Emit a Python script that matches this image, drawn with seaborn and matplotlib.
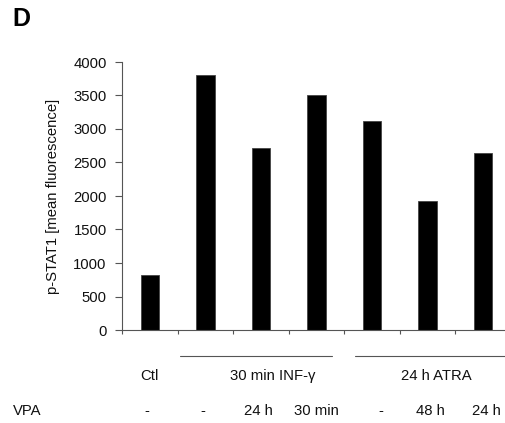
import seaborn as sns
import matplotlib.pyplot as plt
import pandas as pd

## ____data
conditions = ["Ctl", "INF", "INF_VPA24h", "INF_VPA30min", "ATRA", "ATRA_VPA48h", "ATRA_VPA24h"]
pstat1 = [820, 3800, 2720, 3510, 3120, 1930, 2640]
vpa_labels = ["-", "-", "24 h", "30 min", "-", "48 h", "24 h"]
group_labels = ["Ctl", "30 min INF-\u03b3", "24 h ATRA"]

df = pd.DataFrame({"cond": conditions, "val": pstat1})

## ____style
sns.set_theme(style="ticks")
plt.rcParams["font.family"] = ["Liberation Sans", "DejaVu Sans"]
plt.rcParams["text.color"] = "#111111"
fs = 10.7

fig = plt.figure(figsize=(5.05, 4.23), dpi=100)
ax = fig.add_axes([122 / 505, 1 - 330 / 423, 389 / 505, 268 / 423])

sns.barplot(data=df, x="cond", y="val", order=conditions, color="black",
            width=0.33, edgecolor="#444444", linewidth=0.6, saturation=1, ax=ax)

ax.set_xlim(-0.5, len(conditions) - 0.5)
ax.set_ylim(0, 4000)
ax.set_yticks(range(0, 4001, 500))
ax.tick_params(axis="y", labelsize=fs, length=5, width=0.8, color="#555555", pad=6,
               labelcolor="#111111")
ax.set_xticks([i + 0.5 for i in range(-1, len(conditions))])
ax.set_xticklabels([])
ax.tick_params(axis="x", length=3, width=0.8, color="#555555", direction="out")
for s in ["top", "right"]:
    ax.spines[s].set_visible(False)
for s in ["left", "bottom"]:
    ax.spines[s].set_color("#555555")
    ax.spines[s].set_linewidth(0.8)

ax.set_xlabel("")
ax.set_ylabel("p-STAT1 [mean fluorescence]", fontsize=fs, color="#111111")
ax.yaxis.set_label_coords(-0.16, 0.5)

## ____bottom labels
tr = ax.get_xaxis_transform()
ax.text(0, -0.172, group_labels[0], transform=tr, ha="center", va="center", fontsize=fs)
ax.text(2.22, -0.172, group_labels[1], transform=tr, ha="center", va="center", fontsize=fs)
ax.text(5.16, -0.172, group_labels[2], transform=tr, ha="center", va="center", fontsize=fs)
ax.plot([0.54, 3.27], [-0.096, -0.096], transform=tr, color="#555555", lw=0.8, clip_on=False)
ax.plot([3.69, 6.6], [-0.096, -0.096], transform=tr, color="#555555", lw=0.8, clip_on=False)

shift = [-0.05, -0.05, -0.05, 0.0, 0.15, 0.05, 0.05]
for i, lab in enumerate(vpa_labels):
    ax.text(i + shift[i], -0.302, lab, transform=tr, ha="center", va="center", fontsize=fs)
fig.text(13 / 505, 1 - 411 / 423, "VPA", ha="left", va="center", fontsize=fs)

fig.text(12 / 505, 1 - 19 / 423, "D", ha="left", va="center", fontsize=18,
         fontweight="bold", color="black")

plt.savefig("out.png", dpi=100)
